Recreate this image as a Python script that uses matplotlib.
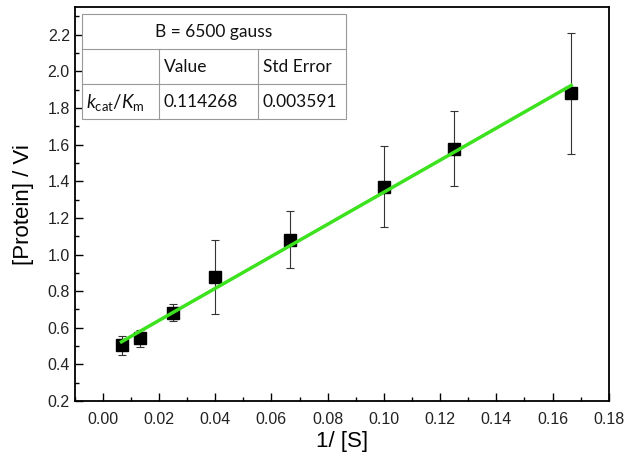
import matplotlib
matplotlib.use('Agg')
import matplotlib.pyplot as plt
from matplotlib.patches import Rectangle
from matplotlib.ticker import MultipleLocator
import numpy as np

# data
inv_s = [1/150, 1/75, 1/40, 1/25, 1/15, 1/10, 1/8, 1/6]
prot_vi = [0.505, 0.543, 0.683, 0.877, 1.08, 1.37, 1.577, 1.88]
err = [0.052, 0.047, 0.045, 0.20, 0.155, 0.222, 0.205, 0.33]

kcat_km = 0.114268
kcat_km_err = 0.003591
intercept = 0.465
field_label = 'B = 6500 gauss'

plt.rcParams['font.family'] = ['Liberation Sans', 'DejaVu Sans']
plt.rcParams['mathtext.fontset'] = 'custom'
plt.rcParams['mathtext.rm'] = 'Lato'
plt.rcParams['mathtext.it'] = 'Lato:italic'

fig = plt.figure(figsize=(6.26, 4.65), dpi=100)
ax = fig.add_axes([0.1193, 0.1376, 0.8531, 0.8467])

ax.errorbar(inv_s, prot_vi, yerr=err, fmt='none', ecolor='#333333',
            elinewidth=0.8, capsize=3, capthick=0.8, zorder=2)
ax.plot(inv_s, prot_vi, 's', color='black', markersize=8.5, zorder=3)

# linear fit, slope = 1 / (kcat/Km)
xs = np.array([inv_s[0], inv_s[-1]])
ax.plot(xs, intercept + xs / kcat_km, color='#3de21e', lw=2.5, zorder=4)

ax.set_xlim(-0.01, 0.18)
ax.set_ylim(0.2, 2.35)
ax.xaxis.set_major_locator(MultipleLocator(0.02))
ax.xaxis.set_minor_locator(MultipleLocator(0.01))
ax.yaxis.set_major_locator(MultipleLocator(0.2))
ax.yaxis.set_minor_locator(MultipleLocator(0.1))
ax.xaxis.set_major_formatter(plt.FormatStrFormatter('%.2f'))
ax.yaxis.set_major_formatter(plt.FormatStrFormatter('%.1f'))
ax.tick_params(which='both', direction='in', top=False, right=False,
               labelsize=11.5, labelcolor='#222222')
ax.tick_params(which='major', length=6, width=1)
ax.tick_params(which='minor', length=3, width=1)
ax.tick_params(axis='x', pad=8)
for sp in ax.spines.values():
    sp.set_linewidth(1.3)

ax.set_xlabel('1/ [S]', fontsize=16, labelpad=3)
ax.set_ylabel('[Protein] / Vi', fontsize=16, labelpad=10)

# results table in the upper-left corner (pixel layout converted to axes fraction)
def ax_x(px):
    return (px - 74.7) / 534

def ax_y(py):
    return (401 - py) / 393.7

col_edges = [82, 159, 258, 346]
row_edges = [14.3, 49.3, 84.3, 119]
grid = '#999999'
tfont = dict(family=['Lato', 'DejaVu Sans'], fontsize=12.5, color='#111111',
             transform=ax.transAxes, zorder=11)

ax.add_patch(Rectangle((ax_x(col_edges[0]), ax_y(row_edges[-1])),
                       ax_x(col_edges[-1]) - ax_x(col_edges[0]),
                       ax_y(row_edges[0]) - ax_y(row_edges[-1]),
                       transform=ax.transAxes, facecolor='white',
                       edgecolor=grid, lw=0.8, zorder=10))
for py in row_edges[1:-1]:
    ax.plot([ax_x(col_edges[0]), ax_x(col_edges[-1])], [ax_y(py)] * 2,
            color=grid, lw=0.8, transform=ax.transAxes, zorder=11)
for px in col_edges[1:-1]:
    ax.plot([ax_x(px)] * 2, [ax_y(row_edges[1]), ax_y(row_edges[-1])],
            color=grid, lw=0.8, transform=ax.transAxes, zorder=11)

ax.text(ax_x(214), ax_y(32), field_label, ha='center', va='center', **tfont)
row2 = ax_y(67)
row3 = ax_y(102)
ax.text(ax_x(164), row2, 'Value', ha='left', va='center', **tfont)
ax.text(ax_x(263), row2, 'Std Error', ha='left', va='center', **tfont)
ax.text(ax_x(86), row3, r'$k_\mathrm{cat}/K_\mathrm{m}$', ha='left', va='center',
        **dict(tfont, fontsize=13.5))
ax.text(ax_x(164), row3, f'{kcat_km:.6f}', ha='left', va='center', **tfont)
ax.text(ax_x(263), row3, f'{kcat_km_err:.6f}', ha='left', va='center', **tfont)

fig.savefig('out.png', dpi=100)
